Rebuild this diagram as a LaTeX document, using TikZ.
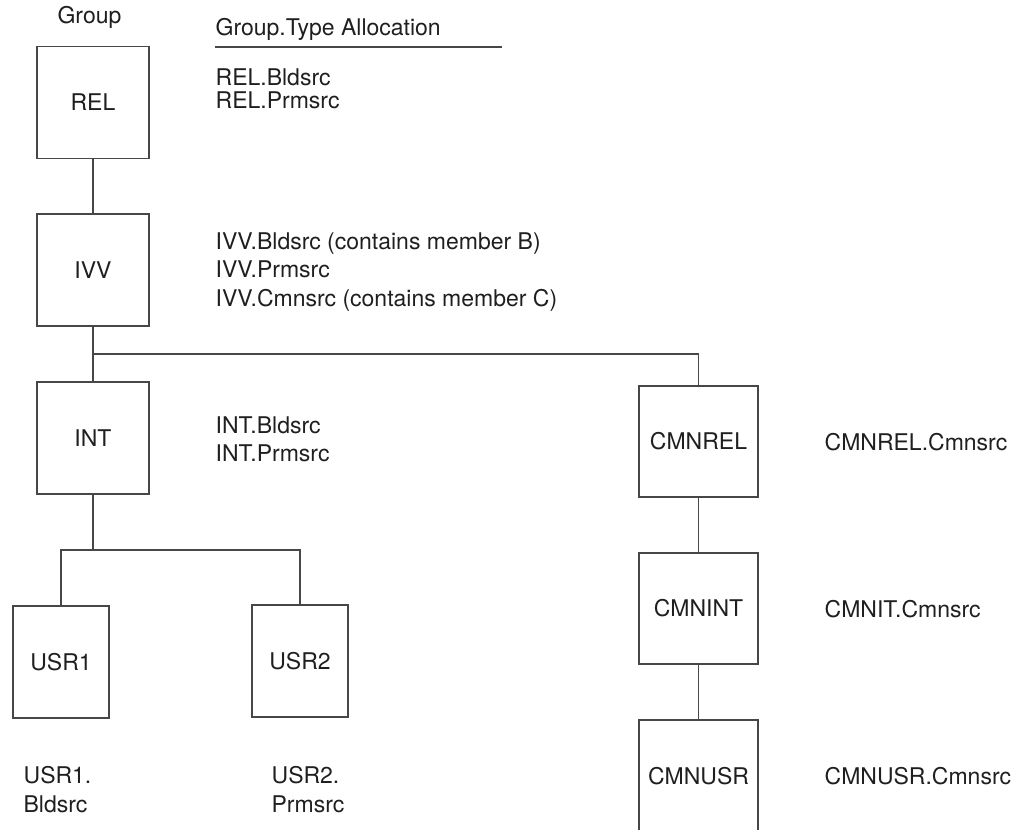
\documentclass[tikz,border=0pt]{standalone}
\usepackage{fontspec}
\setmainfont{TeX Gyre Heros}
\begin{document}
\begin{tikzpicture}[x=1pt,y=-1pt,
  line width=1.3pt,
  every node/.style={font=\fontsize{23}{27}\selectfont, text=black!88},
  grp/.style={draw=black!72, fill=white, rectangle, inner sep=0pt,
              minimum width=112pt, minimum height=112pt},
  usr/.style={grp, minimum width=96pt},
  cmn/.style={grp, minimum width=119pt, minimum height=111pt},
  lbl/.style={anchor=base west, inner sep=0pt},
  conn/.style={draw=black!72}]
  \useasboundingbox (0,0) rectangle (1021,830);

  % headings
  \node[anchor=base, inner sep=0pt] (hgroup) at (89.5,23) {Group};
  \node[lbl] (halloc) at (215,35) {Group.Type Allocation};
  \coordinate (ruleL) at (215,47);
  \coordinate (ruleR) at (502,47);
  \draw[conn] (ruleL) -- (ruleR);

  % main group hierarchy
  \node[grp] (REL) at (93,102.5) {REL};
  \node[grp] (IVV) at (93,270) {IVV};
  \node[grp] (INT) at (93,438) {INT};
  \node[usr] (USR1) at (61,662) {USR1};
  \node[usr] (USR2) at (300,661) {USR2};

  % common-code hierarchy
  \node[cmn] (CMNREL) at (698.5,441.5) {CMNREL};
  \node[cmn] (CMNINT) at (698.5,608.5) {CMNINT};
  \node[cmn, minimum height=113pt] (CMNUSR) at (698.5,776.5) {CMNUSR};

  % connectors
  \coordinate (jIVV) at (93,354);
  \coordinate (jINT) at (93,550);
  \draw[conn] (REL.south) -- (IVV.north);
  \draw[conn] (IVV.south) -- (INT.north);
  \draw[conn] (jIVV) -- (CMNREL.north |- jIVV) -- (CMNREL.north);
  \draw[conn] (INT.south) -- (jINT);
  \draw[conn] (USR1.north) -- (USR1.north |- jINT) -- (USR2.north |- jINT) -- (USR2.north);
  \draw[conn] (CMNREL.south) -- (CMNINT.north);
  \draw[conn] (CMNINT.south) -- (CMNUSR.north);

  % type allocations
  \node[lbl] (tREL1) at (215,85) {REL.Bldsrc};
  \node[lbl] (tREL2) at (215,108) {REL.Prmsrc};
  \node[lbl] (tIVV1) at (215,249) {IVV.Bldsrc (contains member B)};
  \node[lbl] (tIVV2) at (215,277) {IVV.Prmsrc};
  \node[lbl] (tIVV3) at (215,306) {IVV.Cmnsrc (contains member C)};
  \node[lbl] (tINT1) at (215,433) {INT.Bldsrc};
  \node[lbl] (tINT2) at (215,461) {INT.Prmsrc};
  \node[lbl] (tUSR1a) at (23,783) {USR1.};
  \node[lbl] (tUSR1b) at (23,812) {Bldsrc};
  \node[lbl] (tUSR2a) at (271,783) {USR2.};
  \node[lbl] (tUSR2b) at (271,812) {Prmsrc};
  \node[lbl] (tCMNREL) at (824,450) {CMNREL.Cmnsrc};
  \node[lbl] (tCMNINT) at (824,617) {CMNIT.Cmnsrc};
  \node[lbl] (tCMNUSR) at (824,784) {CMNUSR.Cmnsrc};
\end{tikzpicture}
\end{document}
